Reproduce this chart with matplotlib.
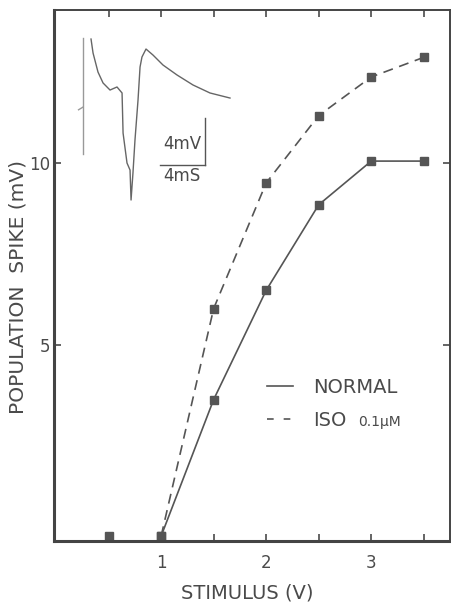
import matplotlib.pyplot as plt
from matplotlib.lines import Line2D

plt.rcParams['font.family'] = ['DejaVu Sans']

# Population spike vs stimulus
stim_normal = [0.5, 1.0, 1.5, 2.0, 2.5, 3.0, 3.5]
spike_normal = [-0.25, -0.25, 3.5, 6.5, 8.85, 10.05, 10.05]
stim_iso = [1.0, 1.5, 2.0, 2.5, 3.0, 3.5]
spike_iso = [-0.25, 6.0, 9.45, 11.3, 12.36, 12.9]

x_ticks = [0.5, 1, 1.5, 2, 2.5, 3, 3.5]
x_labels = ['', '1', '', '2', '', '3', '']
y_ticks = [5, 10]
y_labels = ['5', '10']

# inset trace (time in ms, voltage in mV)
trace_t = [0.71, 0.89, 1.33, 1.78, 2.40, 3.02, 3.47, 3.56, 3.91, 4.18, 4.27,
           4.44, 4.62, 4.89, 5.07, 5.24, 5.60, 6.22, 7.11, 8.36, 9.78, 11.29, 13.07]
trace_v = [5.02, 3.83, 2.21, 1.28, 0.68, 0.94, 0.43, -2.98, -5.53, -6.13, -8.68,
           -6.38, -3.57, -0.17, 2.64, 3.49, 4.17, 3.66, 2.81, 1.96, 1.11, 0.43, 0.0]
artifact_t = [0.0, 0.0]
artifact_v = [5.1, -4.77]
flag_t = [-0.4, 0.0]
flag_v = [-1.0, -0.77]
# scale bar: 4 mV / 4 ms
bar_t0, bar_v0, bar_size = 10.84, -5.7, 4.0

dark = '#4a4a4a'
line_col = '#555555'

fig = plt.figure(figsize=(4.51, 6.07), dpi=100)
ax = fig.add_axes([54/451, 66/607, 396/451, 531/607])

ax.plot(stim_normal[1:], spike_normal[1:], '-', color=line_col, lw=1.2)
ax.plot(stim_normal, spike_normal, 's', color=line_col, ms=5.5, clip_on=False)
ax.plot(stim_iso, spike_iso, color=line_col, lw=1.2, linestyle=(0, (6, 4)))
ax.plot(stim_iso, spike_iso, 's', color=line_col, ms=5.5, clip_on=False)

ax.set_xlim(-0.02, 3.75)
ax.set_ylim(-0.385, 14.2)
ax.set_xticks(x_ticks)
ax.set_xticklabels(x_labels)
ax.set_yticks(y_ticks)
ax.set_yticklabels(y_labels)
ax.tick_params(direction='in', length=5, width=1.2, top=True, right=True,
               labelsize=12, colors=dark)
ax.tick_params(axis='x', pad=9)
ax.tick_params(axis='y', pad=3)

for side in ['left', 'bottom']:
    ax.spines[side].set_linewidth(2.2)
for side in ['top', 'right']:
    ax.spines[side].set_linewidth(1.4)
for sp in ax.spines.values():
    sp.set_color('#444444')

ax.set_xlabel('STIMULUS (V)', fontsize=14, color=dark, va='center')
ax.xaxis.set_label_coords(0.487, -0.098)
ax.set_ylabel('POPULATION  SPIKE (mV)', fontsize=14.5, color=dark, va='center')
ax.yaxis.set_label_coords(-0.091, 0.478)

handles = [Line2D([], [], color=line_col, lw=1.2),
           Line2D([], [], color=line_col, lw=1.2, linestyle=(0, (4, 6)))]
ax.legend(handles, ['NORMAL', 'ISO'], loc='center left',
          bbox_to_anchor=(0.538, 0.258), frameon=False, fontsize=14,
          handlelength=1.35, handletextpad=1.0, labelspacing=0.75,
          borderpad=0, borderaxespad=0, labelcolor=dark)
fig.text(358/451, 1 - 426/607, '0.1μM', fontsize=10, color=dark, va='baseline')

# inset recording
ins = fig.add_axes([70/451, 1 - 210/607, 170/451, 180/607])
ins.plot(trace_t, trace_v, color='#666666', lw=1.0)
ins.plot(artifact_t, artifact_v, color='#999999', lw=1.0)
ins.plot(flag_t, flag_v, color='#999999', lw=1.0)
ins.plot([bar_t0, bar_t0], [bar_v0 + bar_size, bar_v0], color='#555555', lw=1.0)
ins.plot([bar_t0 - bar_size, bar_t0], [bar_v0, bar_v0], color='#555555', lw=1.0)
ins.text(8.8, -3.9, '4mV', fontsize=12, color=dark, ha='center', va='center')
ins.text(8.8, -6.64, '4mS', fontsize=12, color=dark, ha='center', va='center')
ins.set_xlim(-1.16, 13.96)
ins.set_ylim(-9.53, 5.79)
ins.axis('off')

fig.savefig('out.png', dpi=100)
